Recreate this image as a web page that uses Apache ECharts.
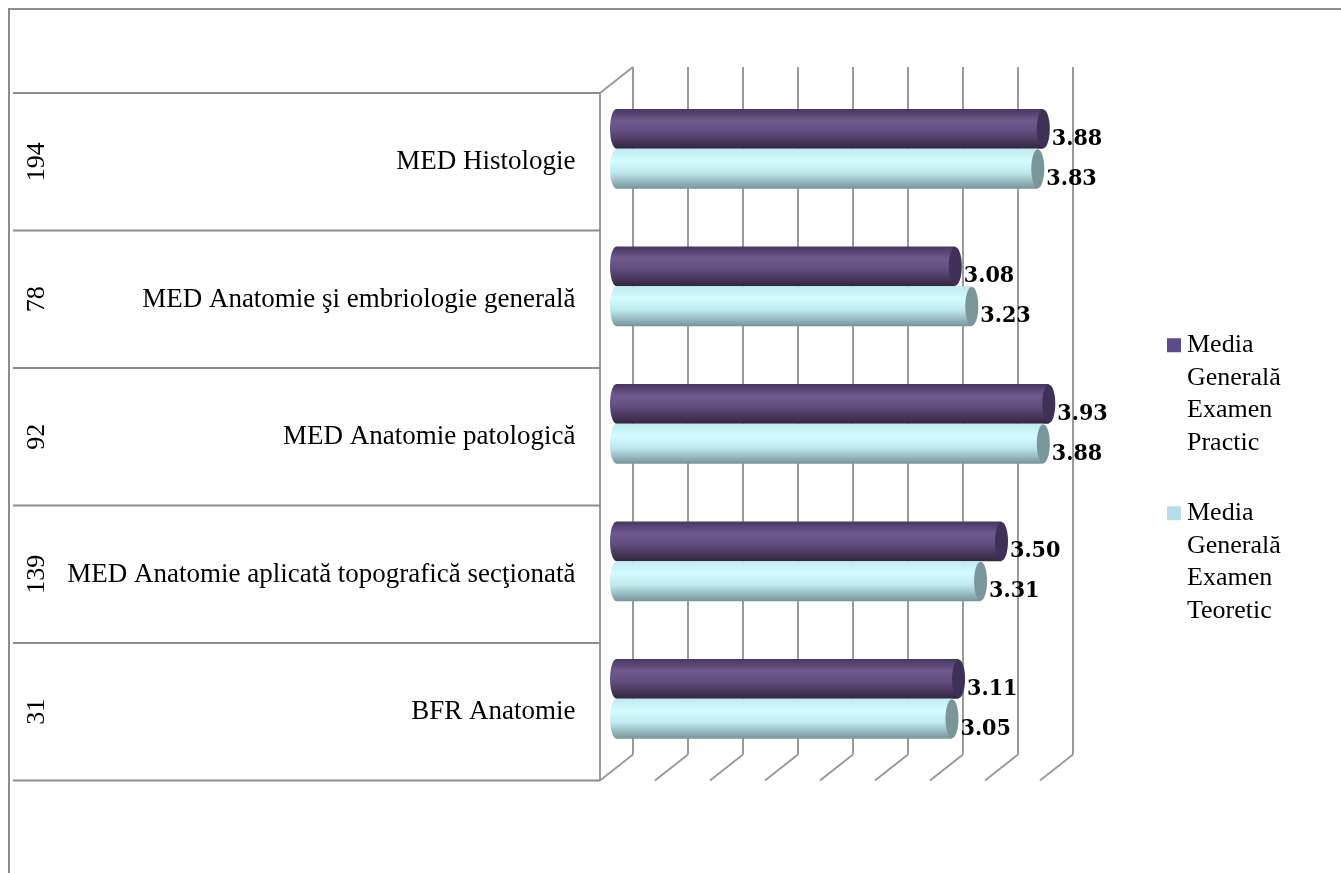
<!DOCTYPE html>
<html><head><meta charset="utf-8">
<script src="https://cdn.jsdelivr.net/npm/echarts/dist/echarts.min.js"></script>
<style>html,body{margin:0;padding:0;background:#fff}#c{width:1341px;height:873px}</style>
</head><body><div id="c"></div>
<script>
const categories = ['MED Histologie', 'MED Anatomie şi embriologie generală', 'MED Anatomie patologică', 'MED Anatomie aplicată topografică secţionată', 'BFR Anatomie'];
const counts = ['194', '78', '92', '139', '31'];
const seriesNames = ['Media Generală Examen Practic', 'Media Generală Examen Teoretic'];
const practic = [3.88, 3.08, 3.93, 3.50, 3.11];
const teoretic = [3.83, 3.23, 3.88, 3.31, 3.05];
const ticks = [0, 0.5, 1, 1.5, 2, 2.5, 3, 3.5, 4];

const DX = 16.5, DY = 13;
const G = echarts.graphic;

const styles = [
  { body: [[0, '#46355f'], [0.3, '#6f5a8e'], [0.55, '#644f82'], [1, '#32263f']], cap: '#3e3057' },
  { body: [[0, '#bfeaf0'], [0.3, '#d2fcff'], [0.6, '#bfe9ee'], [1, '#769599']], cap: '#7b969a' }
];

function barSeries(idx, values) {
  return {
    type: 'custom', name: seriesNames[idx], z: 3,
    itemStyle: { color: idx === 0 ? '#5f4b8b' : '#b7dee8' },
    data: values.map((v, i) => [v, i]),
    encode: { x: 0, y: 1 },
    renderItem(params, api) {
      const v = api.value(0), c = api.value(1);
      const p0 = api.coord([0, c]), p1 = api.coord([v, c]);
      const band = api.size([0, 1])[1];
      const h = band * 0.29;
      const yc = p0[1] + (idx === 0 ? -h / 2 : h / 2);
      const rx = 6.5;
      const grad = () => new G.LinearGradient(0, 0, 0, 1, styles[idx].body.map(s => ({ offset: s[0], color: s[1] })));
      return {
        type: 'group',
        children: [
          { type: 'ellipse', shape: { cx: p0[0], cy: yc, rx: rx, ry: h / 2 }, style: { fill: grad() } },
          { type: 'rect', shape: { x: p0[0], y: yc - h / 2, width: p1[0] - p0[0], height: h }, style: { fill: grad() } },
          { type: 'ellipse', shape: { cx: p1[0], cy: yc, rx: rx, ry: h / 2 - 0.5 }, style: { fill: styles[idx].cap } },
          { type: 'text', z2: 10, style: { x: p1[0] + rx + 2, y: yc + 10, text: v.toFixed(2), fontFamily: 'DejaVu Serif Condensed', fontWeight: 'bold', fontSize: 23, fill: '#000', align: 'left', verticalAlign: 'middle' } }
        ]
      };
    }
  };
}

const frameSeries = {
  type: 'custom', name: 'frame', z: 1, silent: true,
  data: ticks.map(t => [t, 0]),
  encode: { x: 0, y: 1 },
  renderItem(params, api) {
    const cs = params.coordSys;
    const top = cs.y, bottom = cs.y + cs.height;
    const x = api.coord([api.value(0), 0])[0];
    const ls = { stroke: '#9a9a9a', lineWidth: 2 };
    const ch = [
      { type: 'line', shape: { x1: x + DX, y1: top - DY, x2: x + DX, y2: bottom - DY }, style: ls },
      { type: 'line', shape: { x1: x + DX, y1: bottom - DY, x2: x - DX, y2: bottom + DY }, style: ls }
    ];
    if (params.dataIndex === 0) {
      ch.push({ type: 'line', shape: { x1: x - DX, y1: top + DY, x2: x - DX, y2: bottom + DY }, style: ls });
      ch.push({ type: 'line', shape: { x1: x - DX, y1: top + DY, x2: x + DX, y2: top - DY }, style: ls });
      const n = categories.length;
      for (let k = 0; k <= n; k++) {
        const y = top + DY + k * cs.height / n;
        ch.push({ type: 'line', shape: { x1: 13, y1: y, x2: x - DX, y2: y }, style: { stroke: '#8c8c8c', lineWidth: 2 } });
      }
    }
    return { type: 'group', children: ch };
  }
};

const chart = echarts.init(document.getElementById('c'));
chart.setOption({
  animation: false,
  backgroundColor: '#fff',
  graphic: [{ type: 'polyline', shape: { points: [[9, 873], [9, 9], [1341, 9]] }, style: { stroke: '#8c8c8c', lineWidth: 2, fill: null } }],
  grid: { left: 616.5, right: 284.5, top: 80, bottom: 105.5 },
  xAxis: { type: 'value', min: 0, max: 4, interval: 0.5, show: false },
  yAxis: [
    { type: 'category', data: categories, inverse: true, axisLine: { show: false }, axisTick: { show: false },
      axisLabel: { fontFamily: 'Liberation Serif', fontSize: 27, color: '#000', margin: 41, verticalAlign: 'top', lineHeight: 27 } },
    { type: 'category', data: counts, inverse: true, position: 'left', offset: 566, axisLine: { show: false }, axisTick: { show: false },
      axisLabel: { rotate: 90, fontFamily: 'Liberation Serif', fontSize: 26, color: '#000', margin: 0, padding: [0, 26, 0, 0] } }
  ],
  legend: {
    orient: 'vertical', left: 1162, top: 329, padding: 0, itemGap: 38, icon: 'none', itemWidth: 0, itemHeight: 14,
    data: seriesNames,
    formatter: name => {
      const i = seriesNames.indexOf(name);
      return name.split(' ').map((w, k) => (k === 0 ? '{s' + i + '|}' : '{sp|}') + '{t|' + w + '}').join('\n');
    },
    textStyle: {
      fontFamily: 'Liberation Serif', fontSize: 26, lineHeight: 32.5, color: '#000',
      rich: {
        s0: { width: 14, height: 14, backgroundColor: '#5f4b8b' },
        s1: { width: 14, height: 14, backgroundColor: '#b7dee8' },
        sp: { width: 14, height: 14 },
        t: { fontFamily: 'Liberation Serif', fontSize: 26, lineHeight: 32.5, color: '#000', padding: [0, 0, 0, 6] }
      }
    }
  },
  series: [frameSeries, barSeries(0, practic), barSeries(1, teoretic)]
});
</script>
</body></html>
